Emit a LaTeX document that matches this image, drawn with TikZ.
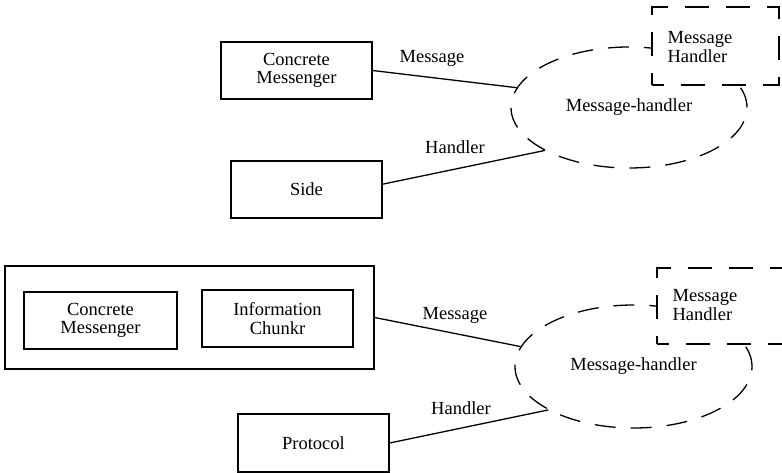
\documentclass[tikz,border=0pt]{standalone}
\usepackage{fontspec}
\setmainfont{Liberation Serif}
\usetikzlibrary{shapes.geometric}
\newcommand\diagfont{\fontsize{18.5}{18.5}\selectfont}
\begin{document}
\begin{tikzpicture}[x=1pt, y=-1pt,
  blockbox/.style={draw, line width=1.3pt, rectangle, minimum width=151pt,
    minimum height=57pt, inner sep=0pt, align=center, font=\diagfont},
  groupbox/.style={draw, line width=1.3pt, rectangle, inner sep=0pt},
  handlerbox/.style={draw, line width=1.3pt, rectangle, fill=white, inner sep=0pt,
    dash pattern=on 24pt off 17pt, dash phase=12pt},
  scopeell/.style={draw, line width=1.3pt, ellipse, inner sep=0pt,
    dash pattern=on 21pt off 15pt, font=\diagfont},
  link/.style={line width=1.3pt},
  caption/.style={font=\diagfont, inner sep=0pt, align=left}]
\useasboundingbox (0,0) rectangle (782,473);
\clip (0,0) rectangle (782,473);

% ---- upper diagram ----
\node[scopeell, minimum width=236pt, minimum height=121pt] (ellA) at (629,107.5) {Message-handler};
\node[handlerbox, minimum width=127pt, minimum height=78pt] (hboxA) at (715.5,46) {};
\node[caption] (hboxAtext) at (700,47) {Message\\Handler};

\node[blockbox] (cmA) at (296.5,70.5) {Concrete\\Messenger};
\node[blockbox] (side) at (306.5,189.5) {Side};

\draw[link] (cmA.east) -- (ellA.170);
\draw[link] (side.4.5) -- (ellA.207);
\node[caption] (msgA) at (432,58) {Message};
\node[caption] (hdlA) at (455,147) {Handler};

% ---- lower diagram ----
\node[scopeell, minimum width=237pt, minimum height=123pt] (ellB) at (633.5,366.5) {Message-handler};
\node[handlerbox, minimum width=127pt, minimum height=76pt] (hboxB) at (720.5,306) {};
\node[caption] (hboxBtext) at (705,305) {Message\\Handler};

\node[groupbox, minimum width=369pt, minimum height=103pt] (group) at (189.5,317.5) {};
\node[blockbox, minimum width=153pt] (cmB) at (100.5,320.5) {Concrete\\Messenger};
\node[blockbox] (info) at (277.5,318.5) {Information\\Chunkr};
\node[blockbox, minimum height=58pt] (proto) at (313.5,443) {Protocol};

\draw[link] (group.east) -- (ellB.170.6);
\draw[link] (proto.east) -- (ellB.207);
\node[caption] (msgB) at (455,315) {Message};
\node[caption] (hdlB) at (461,408) {Handler};
\end{tikzpicture}
\end{document}
